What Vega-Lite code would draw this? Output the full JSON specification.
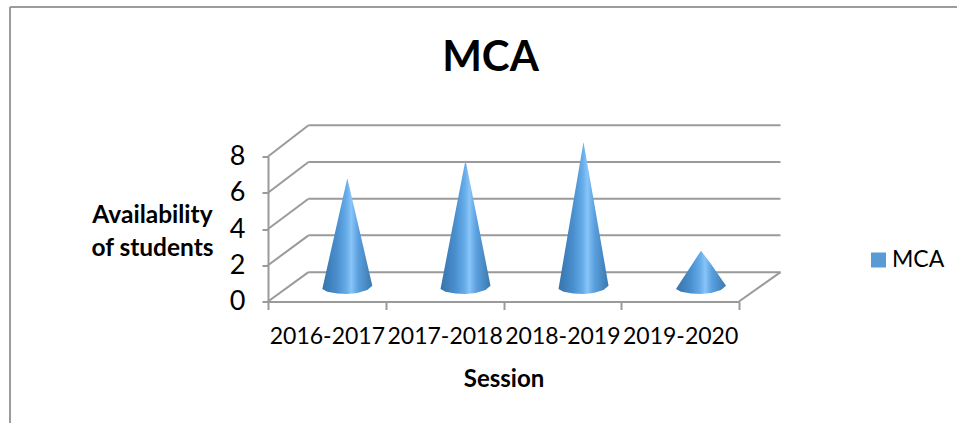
{
"$schema":"https://vega.github.io/schema/vega-lite/v6.json",
"width":471,"height":145,
"autosize":{"type":"none"},
"padding":{"left":268,"top":156.5,"right":218,"bottom":121.5},
"background":"white",
"title":{"text":"MCA","font":"Lato","fontSize":42,"fontWeight":"bold","color":"#000000","anchor":"middle","dx":-13,"offset":-74},
"config":{"view":{"stroke":null},"font":"Lato","axisY":{"tickCount":5,"labelOverlap":false}},
"datasets":{
"walls":[
{"x0":40.5,"x1":512.5,"y0":1.62,"y1":1.62},
{"x0":40.5,"x1":512.5,"y0":3.65,"y1":3.65},
{"x0":40.5,"x1":512.5,"y0":5.67,"y1":5.67},
{"x0":40.5,"x1":512.5,"y0":7.7,"y1":7.7},
{"x0":40.5,"x1":512.5,"y0":9.72,"y1":9.72},
{"x0":0,"x1":40.5,"y0":0,"y1":1.62},
{"x0":0,"x1":40.5,"y0":2,"y1":3.65},
{"x0":0,"x1":40.5,"y0":4,"y1":5.67},
{"x0":0,"x1":40.5,"y0":6,"y1":7.7},
{"x0":0,"x1":40.5,"y0":8,"y1":9.72},
{"x0":471,"x1":512.5,"y0":0,"y1":1.62}
],
"frame":[
{"x0":-258,"x1":689,"y0":16.25,"y1":16.25},
{"x0":-258,"x1":-258,"y0":16.25,"y1":-6.7}
],
"bars":[
{"session":"2016-2017","series":"MCA","value":6,"x":[54.3,59.3,69.3,79.3,89.3,99.3,104.3],"top":[-0.11,1.11,3.56,6,3.63,1.26,0.07],"bottom":[-0.11,-0.27,-0.37,-0.39,-0.34,-0.17,0.07]},
{"session":"2017-2018","series":"MCA","value":7,"x":[172.5,177.5,187.5,197.5,207.5,217.5,222.5],"top":[-0.11,1.31,4.16,7,4.23,1.46,0.07],"bottom":[-0.11,-0.27,-0.37,-0.39,-0.34,-0.17,0.07]},
{"session":"2018-2019","series":"MCA","value":8,"x":[290.5,295.5,305.5,315.5,325.5,335.5,340.5],"top":[-0.11,1.51,4.76,8,4.83,1.66,0.07],"bottom":[-0.11,-0.27,-0.37,-0.39,-0.34,-0.17,0.07]},
{"session":"2019-2020","series":"MCA","value":2,"x":[408,413,423,433,443,453,458],"top":[-0.11,0.31,1.16,2,1.27,0.46,0.07],"bottom":[-0.11,-0.27,-0.37,-0.39,-0.34,-0.17,0.07]}
]
},
"resolve":{"scale":{"x":"independent"},"axis":{"x":"independent"}},
"layer":[
{"data":{"name":"frame"},"mark":{"type":"rule","stroke":"#9c9c9c","strokeWidth":2},
"encoding":{
"x":{"field":"x0","type":"quantitative","scale":{"domain":[0,471]},"axis":null},"x2":{"field":"x1"},
"y":{"field":"y0","type":"quantitative","scale":{"domain":[0,8],"nice":false},
"axis":{"values":[0,2,4,6,8],"labelOverlap":false,"grid":false,"title":["Availability","of students"],"titleAngle":0,"titleAlign":"center","titleBaseline":"alphabetic","titleX":-116,"titleY":66,"titleFont":"Lato","titleFontSize":24.5,"titleFontWeight":"bold","titleColor":"#000000","titleLineHeight":33,"labelFont":"Lato","labelFontSize":27,"labelColor":"#000000","labelPadding":17,"tickSize":6,"tickColor":"#9a9a9a","tickWidth":2,"domainColor":"#9a9a9a","domainWidth":2}},
"y2":{"field":"y1"}}},
{"data":{"name":"walls"},"mark":{"type":"rule","stroke":"#9a9a9a","strokeWidth":2},
"encoding":{
"x":{"field":"x0","type":"quantitative","scale":{"domain":[0,471]},"axis":null},"x2":{"field":"x1"},
"y":{"field":"y0","type":"quantitative","axis":{"values":[0,2,4,6,8]}},"y2":{"field":"y1"}}},
{"data":{"name":"bars"},"mark":{"type":"bar","opacity":0},
"encoding":{
"x":{"field":"session","type":"nominal","sort":null,"scale":{"paddingInner":0,"paddingOuter":0},
"axis":{"title":"Session","labelAngle":0,"labelOverlap":false,"labelFlush":false,"tickBand":"extent","labelFont":"Lato","labelFontSize":23,"labelColor":"#000000","labelPadding":16,"tickSize":8,"tickColor":"#9a9a9a","tickWidth":2,"domainColor":"#9a9a9a","domainWidth":2,"titleFont":"Lato","titleFontSize":24,"titleFontWeight":"bold","titleColor":"#000000","titlePadding":19}},
"y":{"field":"value","type":"quantitative","axis":{"values":[0,2,4,6,8]}}}},
{"data":{"name":"bars"},"transform":[{"flatten":["x","top","bottom"]}],
"mark":{"type":"area","yOffset":-14.6,"y2Offset":-14.6,"line":false,
"fill":{"x1":0,"y1":0,"x2":1,"y2":0,"gradient":"linear","stops":[
{"offset":0,"color":"#3674ab"},{"offset":0.3,"color":"#4a8fcf"},{"offset":0.48,"color":"#66ace8"},{"offset":0.58,"color":"#88c4f8"},{"offset":0.72,"color":"#5a9fde"},{"offset":1,"color":"#3a79ad"}]}},
"encoding":{
"x":{"field":"x","type":"quantitative","scale":{"domain":[0,471]},"axis":null},
"y":{"field":"top","type":"quantitative","axis":{"values":[0,2,4,6,8]}},"y2":{"field":"bottom"},
"detail":{"field":"session"}}},
{"data":{"name":"bars"},"mark":{"type":"point","shape":"square","filled":true,"size":0},
"encoding":{
"color":{"field":"series","type":"nominal","scale":{"range":["#5b9bd5"]},
"legend":{"title":null,"orient":"none","legendX":599,"legendY":92,"symbolType":"square","symbolSize":225,"symbolOpacity":1,"labelFont":"Lato","labelFontSize":23,"labelColor":"#000000","labelOffset":2}}}}
]
}
